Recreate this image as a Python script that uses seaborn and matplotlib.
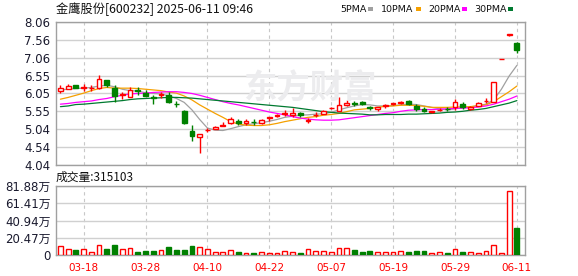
import numpy as np
import pandas as pd
import matplotlib
matplotlib.use("Agg")
import matplotlib.pyplot as plt
from matplotlib.patches import Rectangle
import seaborn as sns

sns.set_style("white")
plt.rcParams['font.family'] = ['DejaVu Sans', 'Noto Sans CJK SC']

# ---------------- data ----------------
title = "金鹰股份[600232] 2025-06-11 09:46"
vol_title = "成交量:315103"

opens = [6.13, 6.19, 6.29, 6.21, 6.20, 6.20, 6.43, 6.20, 6.02, 5.96,
         6.14, 6.07, 5.94, 6.02, 6.01, 5.76, 5.57, 5.00, 4.84, 5.01,
         5.05, 5.15, 5.21, 5.27, 5.21, 5.25, 5.23, 5.37, 5.43, 5.46,
         5.44, 5.51, 5.29, 5.44, 5.47, 5.64, 5.57, 5.73, 5.79, 5.81,
         5.66, 5.61, 5.71, 5.76, 5.78, 5.84, 5.70, 5.62, 5.52, 5.59,
         5.62, 5.66, 5.76, 5.61, 5.71, 5.84, 5.82, 7.01, 7.70, 7.46]
highs = [6.28, 6.32, 6.29, 6.32, 6.28, 6.57, 6.44, 6.29, 6.10, 6.24,
         6.24, 6.15, 6.01, 6.10, 6.10, 5.84, 5.58, 5.16, 4.92, 5.07,
         5.15, 5.25, 5.39, 5.32, 5.32, 5.32, 5.33, 5.39, 5.48, 5.60,
         5.63, 5.54, 5.37, 5.52, 5.58, 5.68, 5.96, 5.86, 5.84, 5.83,
         5.70, 5.68, 5.75, 5.78, 5.83, 5.87, 5.76, 5.66, 5.57, 5.65,
         5.67, 5.90, 5.81, 5.71, 5.81, 5.91, 6.38, 7.01, 7.71, 7.51]
lows = [6.06, 6.18, 6.20, 6.13, 6.13, 6.17, 6.24, 5.82, 5.89, 5.96,
        6.01, 5.97, 5.76, 5.92, 5.77, 5.68, 5.20, 4.72, 4.39, 4.98,
        5.04, 5.15, 5.18, 5.16, 5.17, 5.17, 5.19, 5.27, 5.40, 5.42,
        5.40, 5.40, 5.22, 5.40, 5.46, 5.61, 5.56, 5.70, 5.69, 5.74,
        5.60, 5.57, 5.65, 5.72, 5.76, 5.74, 5.56, 5.53, 5.51, 5.56,
        5.56, 5.59, 5.62, 5.59, 5.70, 5.77, 5.80, 7.01, 7.68, 7.20]
closes = [6.20, 6.26, 6.21, 6.22, 6.21, 6.46, 6.29, 5.99, 6.04, 6.15,
          6.12, 5.98, 5.93, 6.03, 5.82, 5.75, 5.21, 4.85, 4.91, 5.02,
          5.12, 5.16, 5.32, 5.23, 5.27, 5.24, 5.30, 5.38, 5.44, 5.49,
          5.51, 5.44, 5.30, 5.45, 5.57, 5.65, 5.73, 5.79, 5.75, 5.75,
          5.65, 5.66, 5.72, 5.77, 5.82, 5.76, 5.62, 5.55, 5.56, 5.60,
          5.61, 5.80, 5.67, 5.68, 5.77, 5.84, 6.37, 7.01, 7.71, 7.27]
volume_wan = [10.6, 7.1, 5.9, 7.1, 3.5, 11.8, 7.1, 11.8, 7.1, 8.3,
              3.5, 4.7, 4.7, 5.9, 9.5, 5.9, 5.9, 10.6, 9.1, 7.1,
              3.5, 3.5, 5.9, 3.9, 2.4, 2.4, 3.5, 2.4, 2.4, 4.7,
              3.5, 2.4, 6.7, 4.7, 4.7, 3.5, 8.3, 8.3, 5.9, 3.5,
              4.7, 3.5, 3.5, 3.5, 4.7, 3.5, 4.7, 4.7, 2.4, 3.5,
              2.4, 7.1, 3.5, 3.5, 2.4, 4.7, 11.8, 2.4, 75.7, 31.5]
ma5 = [6.15, 6.17, 6.19, 6.20, 6.22, 6.26, 6.28, 6.24, 6.17, 6.13,
       6.12, 6.07, 6.05, 6.04, 5.98, 5.91, 5.80, 5.59, 5.32, 5.08,
       5.02, 5.01, 5.06, 5.12, 5.17, 5.20, 5.23, 5.27, 5.32, 5.38,
       5.41, 5.44, 5.45, 5.47, 5.48, 5.52, 5.59, 5.65, 5.70, 5.74,
       5.73, 5.70, 5.70, 5.71, 5.73, 5.75, 5.74, 5.70, 5.66, 5.62,
       5.59, 5.62, 5.65, 5.67, 5.71, 5.75, 5.87, 6.17, 6.54, 6.84]
ma10 = [5.89, 5.94, 6.00, 6.06, 6.13, 6.19, 6.22, 6.20, 6.20, 6.20,
        6.19, 6.17, 6.15, 6.13, 6.09, 6.06, 5.98, 5.87, 5.73, 5.61,
        5.49, 5.38, 5.26, 5.19, 5.16, 5.15, 5.15, 5.17, 5.21, 5.26,
        5.30, 5.34, 5.38, 5.40, 5.44, 5.46, 5.49, 5.54, 5.59, 5.61,
        5.63, 5.66, 5.69, 5.70, 5.72, 5.72, 5.71, 5.69, 5.66, 5.66,
        5.66, 5.67, 5.67, 5.68, 5.71, 5.73, 5.82, 5.96, 6.10, 6.26]
ma20 = [5.75, 5.77, 5.80, 5.82, 5.84, 5.88, 5.91, 5.96, 6.00, 6.04,
        6.05, 6.06, 6.08, 6.09, 6.10, 6.10, 6.08, 6.05, 6.00, 5.94,
        5.88, 5.82, 5.77, 5.73, 5.68, 5.63, 5.58, 5.53, 5.49, 5.45,
        5.40, 5.36, 5.33, 5.31, 5.30, 5.30, 5.31, 5.34, 5.37, 5.40,
        5.43, 5.46, 5.49, 5.51, 5.55, 5.58, 5.59, 5.60, 5.60, 5.61,
        5.62, 5.63, 5.64, 5.65, 5.67, 5.70, 5.75, 5.82, 5.89, 5.98]
ma30 = [5.68, 5.70, 5.74, 5.75, 5.77, 5.79, 5.81, 5.83, 5.85, 5.88,
        5.90, 5.91, 5.92, 5.93, 5.94, 5.94, 5.93, 5.92, 5.90, 5.88,
        5.86, 5.84, 5.82, 5.80, 5.78, 5.76, 5.74, 5.72, 5.70, 5.68,
        5.66, 5.63, 5.60, 5.57, 5.54, 5.52, 5.50, 5.49, 5.48, 5.47,
        5.45, 5.45, 5.46, 5.46, 5.46, 5.47, 5.47, 5.48, 5.49, 5.50,
        5.52, 5.53, 5.55, 5.58, 5.60, 5.63, 5.68, 5.73, 5.78, 5.85]

date_tick_pos = [3, 11, 19, 27, 35, 43, 51, 59]
date_tick_labels = ["03-18", "03-28", "04-10", "04-22", "05-07", "05-19", "05-29", "06-11"]
price_ticks = [4.04, 4.5425, 5.045, 5.5475, 6.05, 6.5525, 7.055, 7.5575, 8.06]
price_tick_labels = ["4.04", "4.54", "5.04", "5.55", "6.05", "6.55", "7.06", "7.56", "8.06"]
vol_ticks = [0, 20.47, 40.94, 61.41, 81.88]
vol_tick_labels = ["0", "20.47万", "40.94万", "61.41万", "81.88万"]
ma_names = ["5PMA", "10PMA", "20PMA", "30PMA"]
ma_colors = ["#a0a0a0", "#f5a000", "#ff00ff", "#007a30"]

# ---------------- figure ----------------
W, H = 578, 276
fig = plt.figure(figsize=(W / 100, H / 100), dpi=100)

def fx(px):
    return px / W

def fy(py):
    return 1 - py / H

ax = fig.add_axes([fx(56), fy(165), fx(525) - fx(56), fy(22) - fy(165)])
axv = fig.add_axes([fx(56), fy(255), fx(525) - fx(56), fy(186) - fy(255)])

df = pd.DataFrame({"i": np.arange(len(closes)), "open": opens, "high": highs,
                   "low": lows, "close": closes, "vol": volume_wan,
                   "ma5": ma5, "ma10": ma10, "ma20": ma20, "ma30": ma30})
df["up"] = df["close"] >= df["open"]

RED = "#ff0000"
GREEN = "#008000"
GRID = "#d0d0d0"
SPINE = "#a0a0a0"
xlim = (-0.57, 60.05)

for a in (ax, axv):
    a.set_xlim(*xlim)
    a.set_facecolor("white")
    for s in a.spines.values():
        s.set_color(SPINE)
        s.set_linewidth(1.0)
    for p in date_tick_pos:
        a.axvline(p, color="#c8c8c8", lw=0.8, ls=(0, (3, 3)), zorder=0)

# watermark
fig.text(fx(310), fy(89), "东方财富", fontsize=24, color="#ececee",
         ha="center", va="center", family=["Noto Sans CJK SC"], weight="bold", zorder=0)

# price grid
ax.set_ylim(price_ticks[0], price_ticks[-1])
for t in price_ticks:
    ax.axhline(t, color=GRID, lw=1.0, zorder=0.5)
ax.set_yticks(price_ticks)
ax.set_yticklabels(price_tick_labels, fontsize=8.5, color="#1a1a2e")
ax.set_xticks([])
ax.tick_params(axis="y", length=3, color=SPINE, pad=1)

# moving averages via seaborn
for col, c in zip(["ma5", "ma10", "ma20", "ma30"], ma_colors):
    sns.lineplot(data=df, x="i", y=col, ax=ax, color=c, lw=0.9, zorder=2)
ax.set_xlabel("")
ax.set_ylabel("")

# candles
bw = 0.62
for _, r in df.iterrows():
    col = RED if r["up"] else GREEN
    ax.vlines(r["i"], r["low"], r["high"], color=col, lw=1.0, zorder=3)
    body = max(abs(r["close"] - r["open"]), 0.006)
    ax.bar(r["i"], body, bottom=min(r["open"], r["close"]), width=bw,
           facecolor="white" if r["up"] else GREEN, edgecolor=col,
           lw=1.0, zorder=4)

# volume
axv.set_ylim(0, vol_ticks[-1])
for t in vol_ticks:
    axv.axhline(t, color=GRID, lw=1.0, zorder=0.5)
for _, r in df.iterrows():
    up = r["up"]
    axv.bar(r["i"], r["vol"], width=bw, facecolor="white" if up else GREEN,
            edgecolor=RED if up else GREEN, lw=1.0, zorder=3)
axv.set_yticks(vol_ticks)
axv.set_yticklabels(vol_tick_labels, fontsize=8.5, color="#1a1a2e")
axv.set_xticks(date_tick_pos)
axv.set_xticklabels(date_tick_labels, fontsize=7.5, color=RED)
axv.tick_params(axis="y", length=3, color=SPINE, pad=1)
axv.tick_params(axis="x", length=2, color=SPINE, pad=4)

# texts
fig.text(fx(56), fy(9), title, fontsize=8.8, color="#111111", va="center", ha="left",
         family=["Noto Sans CJK SC", "DejaVu Sans"])
fig.text(fx(56), fy(177), vol_title, fontsize=8.5, color="#111111", va="center", ha="left",
         family=["Noto Sans CJK SC", "DejaVu Sans"])

leg_x = [340, 381, 428, 474]
sq_x = [368, 416, 462, 508]
for name, c, lx, sx in zip(ma_names, ma_colors, leg_x, sq_x):
    fig.text(fx(lx), fy(9), name, fontsize=6.8, color="#111111", va="center", ha="left")
    fig.add_artist(Rectangle((fx(sx), fy(11)), fx(5), fy(7) - fy(11),
                             transform=fig.transFigure, facecolor=c, edgecolor="none"))

fig.savefig("out.png", dpi=100, facecolor="white")
